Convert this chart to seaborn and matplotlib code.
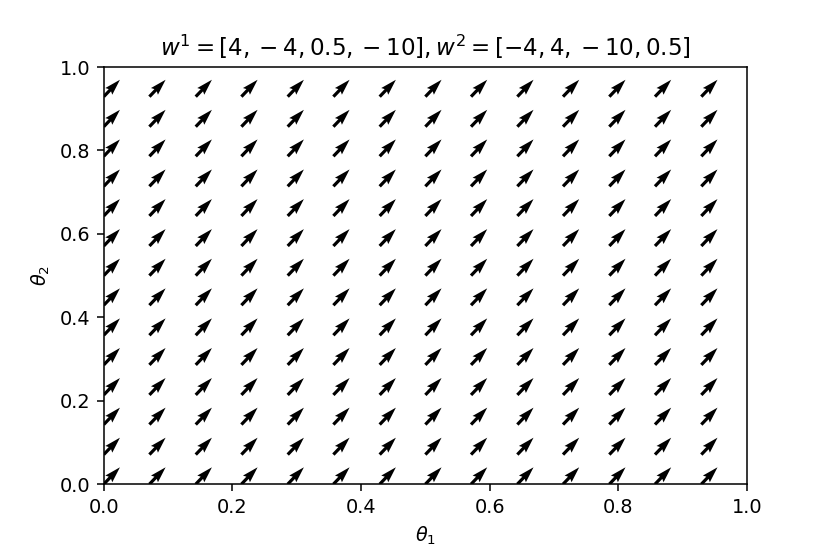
import numpy as np
import seaborn as sns
import matplotlib
matplotlib.use('Agg')
import matplotlib.pyplot as plt

# grid of theta values (14 per axis)
theta1_vals = [0.0, 0.071, 0.143, 0.214, 0.286, 0.357, 0.429, 0.5, 0.571, 0.643, 0.714, 0.786, 0.857, 0.929]
theta2_vals = [0.0, 0.071, 0.143, 0.214, 0.286, 0.357, 0.429, 0.5, 0.571, 0.643, 0.714, 0.786, 0.857, 0.929]
# direction of the field (same everywhere in the picture)
u_dir = 0.69
v_dir = 0.72
title = r'$w^1 = [4, -4, 0.5, -10], w^2 = [-4, 4, -10, 0.5]$'
ticks = [0.0, 0.2, 0.4, 0.6, 0.8, 1.0]

sns.set_style('ticks')
plt.rcParams['font.family'] = ['DejaVu Sans']
plt.rcParams['text.color'] = 'black'
plt.rcParams['axes.labelcolor'] = 'black'

T1, T2 = np.meshgrid(theta1_vals, theta2_vals)
U = np.full(T1.shape, u_dir)
V = np.full(T1.shape, v_dir)

fig = plt.figure(figsize=(6, 4.005), dpi=138.33)
ax = fig.add_axes([0.125, 0.126, 0.775, 0.753])
ax.quiver(T1, T2, U, V, angles='uv', scale_units='inches', scale=5.9,
          width=0.005, color='black')
ax.set_xlim(0, 1)
ax.set_ylim(0, 1)
ax.set_xticks(ticks)
ax.set_yticks(ticks)
ax.set_xticklabels(['%.1f' % t for t in ticks])
ax.set_yticklabels(['%.1f' % t for t in ticks])
ax.set_xlabel(r'$\theta_1$')
ax.set_ylabel(r'$\theta_2$')
ax.set_title(title, color='black')
for s in ax.spines.values():
    s.set_color('black')
    s.set_linewidth(0.8)
ax.tick_params(colors='black', length=3.5, width=0.8)

fig.savefig('out.png', dpi=138.33)
